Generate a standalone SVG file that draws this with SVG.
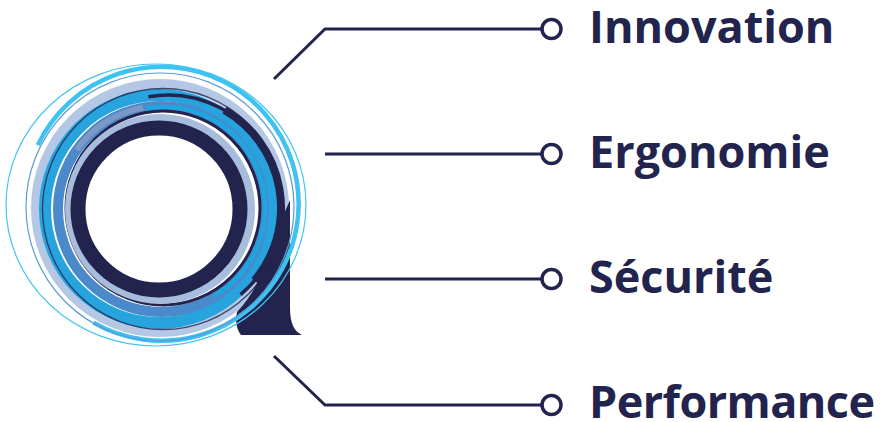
<svg xmlns="http://www.w3.org/2000/svg" width="886" height="422" viewBox="0 0 886 422">
  <style>
    .lbl { font-family: "Open Sans", "Noto Sans", sans-serif; font-weight: 700; font-size: 45px; fill: #22244e; }
    .wire { fill: none; stroke: #22244e; stroke-width: 3; stroke-linejoin: miter; }
    .dot { fill: #ffffff; stroke: #22244e; stroke-width: 3.5; }
    .ring { fill: none; }
  </style>
  <rect width="886" height="422" fill="#ffffff"/>
  <g id="logo">
    <circle class="ring" cx="160" cy="208" r="124" stroke="#b4c8e6" stroke-width="10"/>
    <path d="M 290,200 L 290,308 Q 290,330 302,335 L 241,335 Q 234,326 237,312 Q 262,285 268,250 Z" fill="#22244e"/>
    <path class="ring" d="M 37.8,145.1 A 137 137 0 1 1 93.5,322.6" stroke="#3dc3ef" stroke-width="4.5"/>
    <ellipse class="ring" cx="156" cy="205" rx="150" ry="141" stroke="#44c5ef" stroke-width="1.2"/>
    <circle class="ring" cx="160" cy="207" r="134" stroke="#5c9ad6" stroke-width="1.2"/>
    <circle class="ring" cx="159" cy="209" r="114" stroke="#27a3de" stroke-width="12"/>
    <circle class="ring" cx="163" cy="209" r="120.5" stroke="#22244e" stroke-width="1.3" opacity="0.8"/>
    <circle class="ring" cx="161" cy="209" r="103" stroke="#4a8acb" stroke-width="10"/>
    <path class="ring" d="M 76.6,149.9 A 103 103 0 0 1 143.1,107.6" stroke="#7b98c6" stroke-width="6"/>
    <circle class="ring" cx="163" cy="208" r="97" stroke="#22244e" stroke-width="3"/>
    <path class="ring" d="M 148.4,96.7 A 113 113 0 0 1 240.6,294.6" stroke="#22244e" stroke-width="3.5"/>
    <path class="ring" d="M 224.5,110.1 A 113 113 0 0 1 254.6,280.6" stroke="#22244e" stroke-width="8"/>
    <path class="ring" d="M 146.5,108.5 A 101 101 0 0 1 214.5,295.5" stroke="#1aa8e2" stroke-width="4"/>
    <circle class="ring" cx="160" cy="209" r="91" stroke="#a8bcdc" stroke-width="8"/>
    <circle class="ring" cx="159" cy="209" r="81" stroke="#22244e" stroke-width="15"/>
  </g>
  <g id="connectors">
    <polyline class="wire" points="274,79 325,29 542,29"/>
    <polyline class="wire" points="325,154 542,154"/>
    <polyline class="wire" points="325,279 542,279"/>
    <polyline class="wire" points="274,356 325,405 542,405"/>
  </g>
  <g id="innovation">
    <circle class="dot" cx="551.5" cy="29" r="9.5"/>
    <text class="lbl" x="589" y="43">Innovation</text>
  </g>
  <g id="ergonomie">
    <circle class="dot" cx="551.5" cy="154" r="9.5"/>
    <text class="lbl" x="589" y="168">Ergonomie</text>
  </g>
  <g id="securite">
    <circle class="dot" cx="551.5" cy="279" r="9.5"/>
    <text class="lbl" x="589" y="293">Sécurité</text>
  </g>
  <g id="performance">
    <circle class="dot" cx="551.5" cy="405" r="9.5"/>
    <text class="lbl" x="589" y="418" textLength="286">Performance</text>
  </g>
</svg>
